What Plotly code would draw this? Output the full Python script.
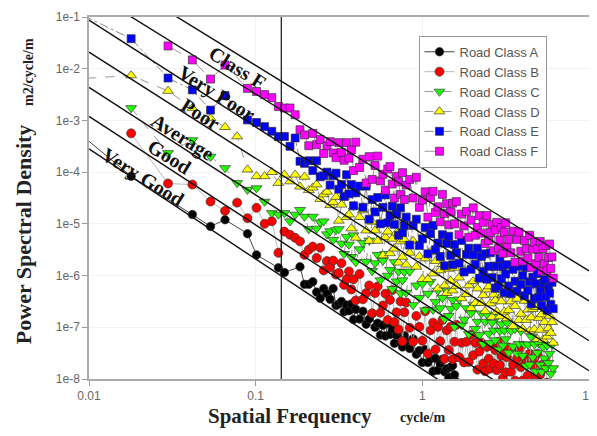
import plotly.graph_objects as go

# ---------------- data ----------------
# low-frequency (sparse) points, frequency in cycle/m, PSD as log10(m2/cycle/m)
freq_low_A = [0.00595, 0.0179, 0.0417, 0.0536, 0.0655, 0.0893, 0.1012, 0.1369, 0.1488, 0.1845]
log_psd_low_A = [-2.80, -4.08, -4.82, -5.05, -4.92, -5.19, -5.60, -5.85, -5.94, -5.83]

freq_low_B = [0.0179, 0.0298, 0.0417, 0.0536, 0.0655, 0.0774, 0.0893, 0.1012, 0.1131, 0.125,
              0.1369, 0.1488, 0.1607, 0.1726, 0.1845]
log_psd_low_B = [-3.25, -4.22, -4.24, -4.57, -4.75, -4.59, -4.89, -4.69, -5.00, -4.95,
                 -5.56, -5.15, -5.21, -5.27, -5.34]

freq_low_C = [0.0179, 0.0298, 0.0417, 0.0536, 0.0655, 0.0774, 0.0893, 0.1012, 0.1131, 0.125,
              0.1369, 0.1488, 0.1607, 0.1726, 0.1845]
log_psd_low_C = [-2.76, -3.63, -3.38, -3.70, -3.92, -4.21, -4.34, -4.31, -4.57, -4.79,
                 -4.82, -4.79, -4.95, -4.82, -4.73]

freq_low_D = [0.00595, 0.0179, 0.0298, 0.0417, 0.0536, 0.0655, 0.0774, 0.0893, 0.1012, 0.1131,
              0.125, 0.1369, 0.1488, 0.1607, 0.1726, 0.1845]
log_psd_low_D = [-2.23, -2.13, -2.43, -2.76, -2.96, -3.13, -3.31, -3.95, -4.08, -4.08,
                 -4.00, -4.21, -4.05, -4.18, -4.05, -4.28]

freq_low_E = [0.00595, 0.0179, 0.0298, 0.0417, 0.0536, 0.0655, 0.0893, 0.1012, 0.1131, 0.125,
              0.1369, 0.1488, 0.1607, 0.1726, 0.1845]
log_psd_low_E = [-0.67, -1.42, -2.18, -2.41, -2.80, -2.52, -2.99, -3.04, -3.12, -3.21,
                 -3.31, -3.31, -3.50, -3.34, -3.79]

freq_low_F = [0.0298, 0.0417, 0.0536, 0.0655, 0.0893, 0.1012, 0.1131, 0.125, 0.1369, 0.1488,
              0.1607, 0.1726, 0.1845]
log_psd_low_F = [-1.56, -1.83, -2.20, -1.93, -2.38, -2.44, -2.50, -2.56, -2.73, -2.76,
                 -2.76, -2.89, -3.18]

# dense frequency grid shared by all classes
freq_dense = [0.1964, 0.2083, 0.2202, 0.2321, 0.2440, 0.2559, 0.2678, 0.2797, 0.2916, 0.3035,
              0.3154, 0.3273, 0.3392, 0.3511, 0.3630, 0.3749, 0.3868, 0.3987,
              0.42, 0.44, 0.46, 0.48, 0.50, 0.52, 0.54, 0.56, 0.58, 0.60,
              0.62, 0.64, 0.66, 0.68, 0.70, 0.72, 0.74, 0.76, 0.78, 0.80,
              0.84, 0.88, 0.92, 0.96, 1.00, 1.04, 1.08, 1.12, 1.16, 1.20,
              1.24, 1.28, 1.32, 1.36, 1.40, 1.44, 1.48, 1.52, 1.56, 1.60,
              1.66, 1.72, 1.78, 1.84, 1.90, 1.96, 2.02, 2.08, 2.14, 2.20,
              2.26, 2.32, 2.38, 2.44, 2.50, 2.56, 2.62, 2.68, 2.74, 2.80,
              2.86, 2.92, 2.98, 3.04, 3.10, 3.16, 3.22,
              3.3, 3.4, 3.5, 3.6, 3.7, 3.8, 3.9, 4.0, 4.1, 4.2,
              4.3, 4.4, 4.5, 4.6, 4.7, 4.8, 4.9, 5.0, 5.1, 5.2,
              5.3, 5.4, 5.5, 5.6, 5.7, 5.8, 5.9, 6.0, 6.1]

log_psd_dense_A = [-6.17, -6.17, -6.12, -6.32, -6.44, -6.25, -6.35, -6.46, -6.25, -6.58,
                   -6.55, -6.50, -6.70, -6.57, -6.68, -6.55, -6.85, -6.65, -6.84, -6.69,
                   -6.94, -6.84, -6.74, -7.00, -6.92, -7.15, -6.96, -7.17, -6.92, -7.14,
                   -7.03, -7.31, -7.15, -7.07, -7.30, -7.38, -7.16, -7.28, -7.41, -7.22,
                   -7.52, -7.45, -7.68, -7.43, -7.68, -7.61, -7.85, -7.60, -7.83, -7.70,
                   -7.62, -7.86, -7.80, -7.97, -7.77, -7.74, -7.92, -8.06]

log_psd_dense_B = [-5.60, -5.50, -5.44, -5.66, -5.46, -5.90, -5.72, -5.84, -5.71, -5.98,
                   -5.95, -5.76, -6.18, -6.07, -5.92, -6.27, -6.07, -6.48, -5.97, -6.46,
                   -6.34, -6.19, -6.73, -6.34, -6.21, -6.72, -6.58, -6.35, -6.86, -6.47,
                   -6.28, -6.90, -6.71, -7.04, -6.50, -7.27, -6.71, -6.52, -7.01, -7.28,
                   -6.78, -6.99, -7.26, -6.69, -7.51, -7.06, -6.91, -7.43, -6.99, -7.27,
                   -6.86, -7.61, -7.06, -7.44, -6.99, -7.62, -7.28, -6.95, -7.58, -7.30,
                   -7.68, -7.28, -7.67, -7.14, -7.54, -7.30, -7.82, -7.47, -7.30, -7.70,
                   -7.85, -7.38, -7.61, -7.80, -7.36, -7.70, -7.44, -7.83, -7.28, -7.73,
                   -7.55, -7.99, -7.46, -7.87, -7.58, -7.39, -7.86, -7.72, -8.03, -7.60,
                   -7.43, -7.77, -8.03, -7.60, -7.71, -7.93, -7.51, -8.02, -7.74, -7.60,
                   -7.94, -7.51, -8.07, -7.91, -7.73, -8.20, -7.80, -7.66, -8.07]

log_psd_dense_C = [-4.86, -5.10, -4.86, -5.09, -4.97, -4.95, -5.20, -5.14, -5.31, -5.12,
                   -5.10, -5.38, -5.58, -5.25, -5.40, -5.64, -5.22, -5.74, -5.49, -5.37,
                   -5.73, -5.32, -5.91, -5.76, -5.60, -6.09, -5.71, -5.58, -6.00, -5.89,
                   -6.26, -5.74, -6.11, -5.92, -6.34, -6.09, -5.93, -6.33, -5.92, -6.57,
                   -6.19, -6.43, -6.16, -6.67, -6.35, -6.12, -6.66, -6.51, -6.29, -6.63,
                   -6.43, -6.84, -6.30, -6.78, -6.64, -6.47, -6.99, -6.59, -6.46, -6.96,
                   -6.85, -6.63, -7.13, -6.73, -6.56, -7.03, -6.89, -7.15, -6.73, -7.32,
                   -6.89, -6.75, -7.12, -7.30, -6.91, -7.06, -7.25, -6.80, -7.43, -7.07,
                   -6.94, -7.35, -7.06, -7.23, -6.91, -7.49, -7.07, -7.37, -7.03, -7.51,
                   -7.32, -7.07, -7.55, -7.33, -7.75, -7.33, -7.72, -7.18, -7.58, -7.33,
                   -7.85, -7.49, -7.31, -7.72, -7.86, -7.38, -7.60, -7.79, -7.35, -7.69,
                   -7.51, -7.90, -7.34, -7.79]

log_psd_dense_D = [-4.09, -4.35, -4.30, -4.24, -4.52, -4.43, -4.38, -4.64, -4.58, -4.48,
                   -4.94, -4.63, -4.49, -4.87, -4.82, -5.09, -4.67, -5.27, -4.87, -4.74,
                   -5.13, -5.33, -4.96, -5.13, -5.33, -4.97, -5.61, -5.26, -5.15, -5.57,
                   -5.29, -5.48, -5.17, -5.75, -5.34, -5.64, -5.30, -5.79, -5.56, -5.33,
                   -5.83, -5.63, -6.07, -5.67, -6.07, -5.55, -5.96, -5.72, -6.25, -5.90,
                   -5.78, -6.19, -6.34, -5.87, -6.10, -6.29, -5.85, -6.20, -6.04, -6.44,
                   -5.89, -6.36, -6.19, -6.63, -6.11, -6.53, -6.25, -6.06, -6.53, -6.38,
                   -6.69, -6.27, -6.21, -6.54, -6.80, -6.37, -6.48, -6.70, -6.28, -6.79,
                   -6.50, -6.37, -6.70, -6.27, -6.83, -6.67, -6.50, -6.98, -6.59, -6.45,
                   -6.86, -6.74, -7.03, -6.49, -6.86, -6.66, -7.07, -6.81, -6.65, -7.04,
                   -6.61, -7.23, -6.82, -7.05, -6.75, -7.24, -6.90, -6.65, -7.18, -7.02,
                   -6.78, -7.11, -6.90, -7.30]

log_psd_dense_E = [-3.83, -3.78, -3.97, -3.78, -4.09, -4.07, -4.00, -4.25, -4.07, -4.02,
                   -4.33, -4.24, -4.47, -4.05, -4.42, -4.24, -4.65, -4.40, -4.27, -4.68,
                   -4.27, -4.91, -4.53, -4.77, -4.49, -5.00, -4.68, -4.44, -4.98, -4.84,
                   -4.66, -5.01, -4.81, -5.22, -4.69, -5.17, -5.03, -4.87, -5.41, -5.03,
                   -4.91, -5.42, -5.29, -5.07, -5.58, -5.19, -5.03, -5.50, -5.37, -5.63,
                   -5.21, -5.81, -5.38, -5.24, -5.61, -5.79, -5.40, -5.56, -5.76, -5.32,
                   -5.93, -5.59, -5.47, -5.88, -5.60, -5.78, -5.47, -6.05, -5.63, -5.92,
                   -5.58, -6.07, -5.82, -5.56, -6.04, -5.82, -6.24, -5.82, -6.21, -5.67,
                   -6.06, -5.82, -6.33, -5.97, -5.79, -6.20, -6.35, -5.88, -6.11, -6.30,
                   -5.82, -6.17, -6.00, -6.39, -5.84, -6.29, -6.12, -6.55, -6.03, -6.44,
                   -6.16, -5.96, -6.42, -6.28, -6.58, -6.15, -6.08, -6.41, -6.67, -6.24,
                   -6.34, -6.56, -6.13, -6.64]

log_psd_dense_F = [-3.28, -3.49, -3.25, -3.47, -3.37, -3.64, -3.49, -3.41, -3.63, -3.72,
                   -3.43, -3.62, -3.77, -3.43, -3.73, -3.57, -3.97, -3.42, -3.91, -3.75,
                   -4.21, -3.70, -4.14, -3.87, -3.69, -4.17, -4.04, -4.35, -3.94, -3.89,
                   -4.23, -4.50, -4.08, -4.19, -4.43, -4.01, -4.53, -4.25, -4.14, -4.50,
                   -4.10, -4.68, -4.54, -4.38, -4.87, -4.49, -4.37, -4.78, -4.67, -4.96,
                   -4.43, -4.80, -4.61, -5.02, -4.77, -4.60, -5.00, -4.57, -5.21, -4.81,
                   -5.04, -4.76, -5.26, -4.93, -4.69, -5.22, -5.07, -4.84, -5.18, -4.97,
                   -5.38, -4.84, -5.32, -5.17, -5.01, -5.52, -5.12, -4.97, -5.47, -5.31,
                   -5.07, -5.57, -5.16, -4.98, -5.44, -5.30, -5.56, -5.14, -5.74, -5.30,
                   -5.16, -5.53, -5.72, -5.32, -5.48, -5.66, -5.22, -5.84, -5.49, -5.36,
                   -5.77, -5.48, -5.65, -5.34, -5.91, -5.48, -5.77, -5.42, -5.91, -5.65,
                   -5.39, -5.86, -5.64, -6.05]

series_names = ["Road Class A", "Road Class B", "Road Class C",
                "Road Class D", "Road Class E", "Road Class F"]

# road-roughness class boundary lines: log10 PSD at the two ends of the frequency axis
boundary_freq = [0.01, 10]
boundary_log_psd_left = [-3.55, -2.92, -2.36, -1.68, -1.06, -0.49, 0.05]
boundary_log_psd_right = [-9.94, -9.22, -8.60, -7.84, -7.26, -6.49, -5.91]
class_labels = ["Very Good", "Good", "Average", "Poor", "Very Poor", "Class F"]

cutoff_freq = 0.1425
x_tick_vals = [0.01, 0.1, 1, 10]
x_tick_text = ["0.01", "0.1", "1", "10"]
y_tick_vals = [1e-8, 1e-7, 1e-6, 1e-5, 1e-4, 1e-3, 1e-2, 1e-1]
y_tick_text = ["1e-8", "1e-7", "1e-6", "1e-5", "1e-4", "1e-3", "1e-2", "1e-1"]

# ---------------- figure ----------------
freq_series = [freq_low_A + freq_dense[:len(log_psd_dense_A)],
               freq_low_B + freq_dense[:len(log_psd_dense_B)],
               freq_low_C + freq_dense[:len(log_psd_dense_C)],
               freq_low_D + freq_dense[:len(log_psd_dense_D)],
               freq_low_E + freq_dense[:len(log_psd_dense_E)],
               freq_low_F + freq_dense[:len(log_psd_dense_F)]]
logpsd_series = [log_psd_low_A + log_psd_dense_A,
                 log_psd_low_B + log_psd_dense_B,
                 log_psd_low_C + log_psd_dense_C,
                 log_psd_low_D + log_psd_dense_D,
                 log_psd_low_E + log_psd_dense_E,
                 log_psd_low_F + log_psd_dense_F]

marker_styles = [
    dict(symbol="circle", color="#000000", size=8.5),
    dict(symbol="circle", color="#ff0000", size=9),
    dict(symbol="triangle-down", color="#22ff00", size=9.5),
    dict(symbol="triangle-up", color="#ffff00", size=9.5),
    dict(symbol="square", color="#0000ff", size=8),
    dict(symbol="square", color="#ff00ff", size=8),
]
line_styles = [
    dict(color="#444444", width=1, dash="solid"),
    dict(color="#bbbbbb", width=1, dash="solid"),
    dict(color="#999999", width=1, dash="dash"),
    dict(color="#999999", width=1, dash="dash"),
    dict(color="#888888", width=1, dash="dashdot"),
    dict(color="#999999", width=1, dash="longdash"),
]

fig = go.Figure()
for name, fx, ly, ms, ls in zip(series_names, freq_series, logpsd_series, marker_styles, line_styles):
    m = dict(ms)
    m["line"] = dict(color="rgba(50,50,50,0.85)", width=0.8)
    fig.add_trace(go.Scatter(
        x=fx, y=[10 ** v for v in ly], mode="lines+markers", name=name,
        marker=m, line=ls,
    ))

for left, right in zip(boundary_log_psd_left, boundary_log_psd_right):
    fig.add_trace(go.Scatter(
        x=boundary_freq, y=[10 ** left, 10 ** right], mode="lines",
        line=dict(color="#111111", width=1.4), showlegend=False, hoverinfo="skip",
    ))

fig.add_trace(go.Scatter(
    x=[cutoff_freq, cutoff_freq], y=[1e-8, 1e-1], mode="lines",
    line=dict(color="#111111", width=1.2), showlegend=False, hoverinfo="skip",
))

# class labels along the boundary lines (paper coordinates)
label_pos = [(0.1085, 0.558), (0.1617, 0.613), (0.1874, 0.6685),
             (0.2229, 0.732), (0.2544, 0.7873), (0.2978, 0.8591)]
annotations = []
for text, (ax_, ay_) in zip(class_labels, label_pos):
    annotations.append(dict(
        x=ax_, y=ay_, xref="paper", yref="paper", text="<b>%s</b>" % text,
        showarrow=False, textangle=32, xanchor="center", yanchor="middle",
        font=dict(family="Liberation Serif", size=20, color="#111111"),
    ))

title_font = dict(family="Liberation Serif", color="#222222")
annotations += [
    dict(x=-0.132, y=0.40, xref="paper", yref="paper", text="<b>Power Spectral Density</b>",
         showarrow=False, textangle=-90, xanchor="center", yanchor="middle",
         font=dict(size=22, **title_font)),
    dict(x=-0.122, y=0.848, xref="paper", yref="paper", text="<b>m2/cycle/m</b>",
         showarrow=False, textangle=-90, xanchor="center", yanchor="middle",
         font=dict(size=14, **title_font)),
    dict(x=0.4024, y=-0.102, xref="paper", yref="paper", text="<b>Spatial Frequency</b>",
         showarrow=False, xanchor="center", yanchor="middle",
         font=dict(size=21, **title_font)),
    dict(x=0.6667, y=-0.105, xref="paper", yref="paper", text="<b>cycle/m</b>",
         showarrow=False, xanchor="center", yanchor="middle",
         font=dict(size=14, **title_font)),
]

axis_common = dict(
    type="log", ticks="outside", ticklen=5, tickcolor="#999999",
    showline=True, linecolor="#aaaaaa", linewidth=1.5, mirror=True,
    showgrid=True, gridcolor="#f3f3f3", zeroline=False,
    tickfont=dict(family="Liberation Sans", size=12, color="#666666"),
    ticklabeloverflow="allow",
)

# the page body adds an 8px margin, so the figure is drawn 8px smaller / shifted
fig.update_layout(
    width=589, height=428,
    margin=dict(l=81, r=1, t=9, b=57),
    paper_bgcolor="white", plot_bgcolor="white",
    xaxis=dict(range=[-2, 1], tickvals=x_tick_vals, ticktext=x_tick_text, **axis_common),
    yaxis=dict(range=[-8, -1], tickvals=y_tick_vals, ticktext=y_tick_text, **axis_common),
    legend=dict(x=0.659, y=0.948, xanchor="left", yanchor="top",
                bgcolor="white", bordercolor="#999999", borderwidth=1,
                font=dict(family="Liberation Sans", size=13, color="#555555"),
                entrywidth=106),
    annotations=annotations,
    showlegend=True,
)

fig.write_html("out.html")
